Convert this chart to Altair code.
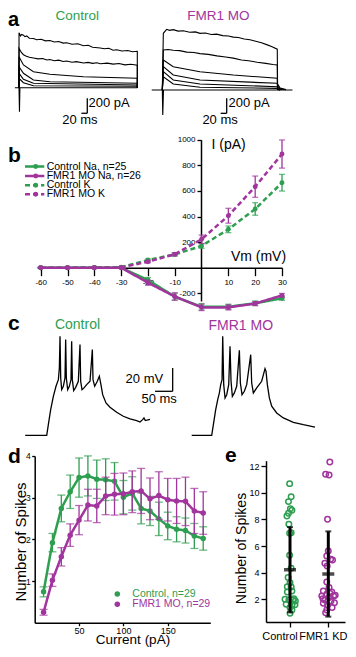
import altair as alt
import pandas as pd

FONT = "Liberation Sans"
GREEN = "#2e9e50"
MAGENTA = "#a1349d"
W, H = 340, 639

# ---------------- data ----------------
# a: voltage-clamp current traces (time ms, current pA)
A_CTRL_TRACES = [
    [(-14, 0), (0, 0), (1.5, -320), (3, 0), (402, 0)],
    [(0, 0), (0, 733), (5, 690), (9, 710), (15, 700), (20, 680), (26, 690), (35, 660), (49, 655), (60, 640),
     (75, 645), (90, 625), (105, 630), (120, 610), (135, 615), (150, 595), (162, 600), (180, 580), (200, 585),
     (219, 560), (235, 565), (250, 540), (276, 530), (290, 520), (305, 525), (320, 500), (332, 505), (350, 490),
     (370, 495), (385, 480), (402, 485), (402, 0)],
    [(0, 0), (0, 525), (8, 470), (15, 440), (25, 420), (35, 405), (49, 395), (65, 385), (80, 390), (95, 370),
     (105, 375), (120, 360), (135, 368), (150, 350), (162, 355), (180, 340), (195, 348), (219, 330), (235, 338),
     (250, 325), (265, 332), (276, 320), (300, 328), (320, 315), (340, 322), (360, 305), (380, 312), (402, 300),
     (402, 0)],
    [(0, 0), (0, 413), (15, 303), (49, 213), (105, 179), (219, 147), (402, 125), (402, 0)],
    [(0, 0), (0, 280), (15, 192), (49, 103), (105, 80), (402, 59), (402, 0)],
    [(0, 0), (0, 192), (15, 112), (49, 59), (402, 36), (402, 0)],
    [(0, 0), (0, 125), (15, 67), (49, 27), (402, 19), (402, 0)],
]
A_FMR_TRACES = [
    [(-37, 0), (0, 0), (1.5, -333), (4, 0), (453, 0)],
    [(0, 0), (3.5, 756), (15, 809), (25, 795), (38, 805), (55, 785), (73, 790), (95, 770), (115, 775), (131, 755),
     (150, 760), (170, 740), (189, 745), (210, 725), (230, 720), (247, 705), (265, 700), (285, 680), (305, 670),
     (325, 650), (345, 630), (363, 605), (380, 580), (400, 545), (401, 80), (410, 25), (430, 5)],
    [(0, 0), (3.5, 533), (20, 540), (38, 530), (60, 525), (85, 505), (110, 500), (131, 485), (160, 475),
     (190, 455), (220, 440), (247, 425), (275, 400), (300, 390), (330, 370), (360, 355), (385, 340), (400, 333),
     (401, 50), (410, 15), (430, 3)],
    [(0, 0), (3.5, 400), (38, 311), (131, 244), (247, 200), (400, 156), (401, 30), (415, 5)],
    [(0, 0), (3.5, 311), (38, 200), (131, 133), (400, 89), (401, 20), (415, 3)],
    [(0, 0), (3.5, 244), (38, 133), (131, 80), (400, 44), (401, 10), (410, 0)],
    [(0, 0), (3.5, 177), (38, 80), (131, 36), (400, 22), (401, 5), (410, 0)],
]
# scale bars: (t of vertical bar, t start of horizontal bar, bottom, top)
A_CTRL_BAR = (232, 212, -341, -141)
A_FMR_BAR = (224, 203, -311, -111)
A_CTRL_TXT = [("200 pA", 236, -208, "left"), ("20 ms", 207, -431, "center")]
A_FMR_TXT = [("200 pA", 230, -178, "left"), ("20 ms", 201, -400, "center")]

# b: I-V curves
B_VM = [-60, -50, -40, -30, -20, -10, 0, 10, 20, 30]
B_CTRL_NA = [0, 0, 0, 0, -96, -226, -305, -305, -278, -239]
B_CTRL_NA_ERR = [3, 3, 3, 4, 20, 25, 25, 20, 18, 15]
B_FMR_NA = [0, 0, 0, 0, -117, -225, -310, -310, -280, -216]
B_FMR_NA_ERR = [3, 3, 3, 4, 20, 30, 25, 20, 15, 15]
B_CTRL_K = [0, 0, 2, 5, 60, 104, 170, 300, 459, 664]
B_CTRL_K_ERR = [2, 2, 2, 3, 8, 12, 18, 26, 49, 65]
B_FMR_K = [0, 0, 0, 2, 47, 105, 222, 406, 633, 888]
B_FMR_K_ERR = [2, 2, 2, 3, 8, 12, 33, 58, 83, 110]
B_XTICKS = [-60, -50, -40, -30, -20, -10, 10, 20, 30]
B_YTICKS = [-200, 200, 400, 600, 800, 1000]
B_LEGEND = ["Control Na, n=25", "FMR1 MO Na, n=26", "Control K", "FMR1 MO K"]
B_LEGEND_GRP = ["Control", "FMR1", "Control", "FMR1"]
B_LEGEND_ION = ["Na", "Na", "K", "K"]

# c: current-clamp voltage traces (time ms, Vm mV)
C_CTRL = [(-61, -70), (0, -70), (4.6, -60.9), (11.2, -48), (18.8, -36.6), (26.3, -28), (33, -22.3), (35.8, -12.3),
          (37.7, 14.8), (39.6, -20.9), (42.4, -30.9), (47.1, -28), (51.8, -20.9), (53.7, 12), (55.6, -20.9),
          (59.4, -30.9), (64.1, -28), (68.8, -22.3), (70.7, 10.5), (72.6, -22.3), (76.4, -31.7), (82.1, -28.9),
          (89.6, -23.7), (94.3, 7.7), (96.2, -23.7), (100, -30.9), (105.7, -29.4), (113.2, -26.6), (122.7, -23.7),
          (129.3, 3.4), (131.2, -22.3), (135.9, -28), (143.4, -23.7), (149.1, -19.4), (152.9, -25.2), (158.6, -35.2),
          (168, -42.3), (179.3, -46), (198.2, -50.3), (217.1, -53.7), (236, -56), (254.9, -57.4), (264.3, -58.6),
          (271.9, -56.6), (275.6, -55.1), (279.4, -57.4), (292.6, -56.3)]
C_FMR = [(-56.7, -70), (0, -70), (4.7, -60.9), (11.3, -48), (17, -39.4), (21.7, -33.7), (25.5, -26.6), (29.3, -22.3),
         (31.2, 14.8), (34, -26.6), (37.8, -38), (42.5, -35.2), (48.2, -26.6), (51.9, 6.3), (54.8, -23.7),
         (58.5, -36.6), (64.2, -33.7), (70.8, -28), (78.4, 2.8), (81.2, -25.2), (85.9, -35.2), (92.5, -32.3),
         (99.2, -26.6), (110.5, -0.9), (113.3, -25.2), (118, -33.7), (127.5, -29.4), (141.6, -23.7), (151.1, -12.9),
         (153.9, -15.2), (157.7, -26.6), (163.4, -38), (170, -45.1), (184.1, -50.9), (203, -55.1), (231.4, -58.9),
         (259.7, -60.9), (292.7, -62.9)]
C_BAR = (357, 307, -32.3, -12.3)
C_TXT = [("20 mV", 330, -21.9, "right"), ("50 ms", 318.7, -39.2, "center")]

# d: spikes vs injected current
D_CURRENT = [10, 20, 30, 40, 50, 60, 70, 80, 90, 100, 110, 120, 130, 140, 150, 160, 170, 180, 190]
D_CTRL = [0.74, 1.92, 2.74, 3.14, 3.48, 3.52, 3.44, 3.43, 3.39, 3.01, 3.10, 2.74, 2.68, 2.49, 2.32, 2.24, 2.21, 2.08, 2.02]
D_CTRL_ERR = [0.12, 0.22, 0.32, 0.4, 0.47, 0.48, 0.46, 0.5, 0.45, 0.4, 0.4, 0.37, 0.35, 0.4, 0.33, 0.3, 0.3, 0.3, 0.28]
D_FMR = [0.25, 1.02, 1.58, 2.10, 2.46, 2.82, 2.80, 3.04, 3.08, 3.09, 3.14, 3.16, 2.97, 3.05, 2.95, 2.92, 2.91, 2.68, 2.63]
D_FMR_ERR = [0.07, 0.15, 0.22, 0.27, 0.35, 0.38, 0.4, 0.45, 0.5, 0.5, 0.5, 0.54, 0.5, 0.57, 0.51, 0.54, 0.58, 0.54, 0.51]
D_LEGEND = ["Control, n=29", "FMR1 MO, n=29"]

# e: spikes per cell, jitter in category units
E_CTRL = [10.68, 9.7, 9.33, 8.8, 8.68, 8.45, 8.25, 7.63, 7.0, 6.95, 5.3, 4.33, 3.63, 3.25, 2.95, 2.93, 2.63, 2.55,
          2.0, 1.95, 1.93, 1.88, 2.05, 1.63, 1.55, 1.6, 1.38, 1.2, 0.95]
E_CTRL_JIT = [-0.01, 0.03, -0.04, 0.01, 0.05, -0.04, -0.08, -0.03, 0.03, -0.01, -0.01, 0.03, -0.05, 0, -0.07, 0.03,
              0.05, -0.07, -0.13, -0.03, 0.08, 0.14, 0.1, -0.1, 0.05, 0.13, 0, 0.05, 0]
E_FMR = [12.3, 11.38, 11.33, 8.0, 5.63, 5.25, 5.0, 4.95, 4.7, 4.5, 3.3, 2.88, 2.63, 2.55, 2.38, 2.25, 2.25, 2.3, 2.13,
         2.05, 1.95, 1.88, 1.75, 1.7, 1.55, 1.38, 1.2, 1.0, 2.45]
E_FMR_JIT = [0.04, -0.07, 0.02, -0.02, 0, -0.04, 0.06, 0.11, -0.09, -0.03, -0.04, 0.02, -0.13, 0.09, -0.04, -0.17, 0.14,
             0.18, 0.02, -0.14, -0.09, 0.07, 0.16, -0.13, -0.02, 0.1, -0.04, -0.07, 0.04]
E_CATS = ["Control", "FMR1 KD"]
E_MEAN = [4.22, 3.9]
E_SD = [3.2, 3.2]
E_YTICKS = [2, 4, 6, 8, 10, 12]

# ---------------- helpers ----------------
color_scale = alt.Scale(domain=["Control", "FMR1"], range=[GREEN, MAGENTA])
dash_scale = alt.Scale(domain=["Na", "K"], range=[[1, 0], [5, 3]])
COLOR = alt.Color("grp:N", scale=color_scale, legend=None)


def lin(domain, rng):
    return alt.Scale(domain=domain, range=rng, zero=False, nice=False)


def trace_df(traces):
    rows = []
    for k, tr in enumerate(traces):
        for i, (t, v) in enumerate(tr):
            rows.append({"trace": k, "i": i, "t": t, "v": v})
    return pd.DataFrame(rows)


def bar_df(bar):
    tv, th, vb, vt = bar
    return pd.DataFrame([{"x": tv, "x2": tv, "y": vb, "y2": vt},
                         {"x": th, "x2": tv, "y": vb, "y2": vb}])


def trace_layers(traces, bar, texts, xs, ys, sw):
    layers = [
        alt.Chart(trace_df(traces)).mark_line(color="black", strokeWidth=sw).encode(
            x=alt.X("t:Q", scale=xs, axis=None),
            y=alt.Y("v:Q", scale=ys, axis=None),
            detail="trace:N",
            order=alt.Order("i:Q"),
        )
    ]
    if bar is not None:
        layers.append(
            alt.Chart(bar_df(bar)).mark_rule(color="black", strokeWidth=1.3).encode(
                x=alt.X("x:Q", scale=xs, axis=None), x2="x2:Q",
                y=alt.Y("y:Q", scale=ys, axis=None), y2="y2:Q")
        )
    for s, t, v, al in texts:
        layers.append(
            alt.Chart(pd.DataFrame([{"s": s, "t": t, "v": v}])).mark_text(
                align=al, baseline="middle", fontSize=13, font=FONT, color="black").encode(
                x=alt.X("t:Q", scale=xs, axis=None),
                y=alt.Y("v:Q", scale=ys, axis=None),
                text="s:N")
        )
    return layers


ALL = []

# ---------------- panel a ----------------
xa1 = lin([-14, 402], [6.9, 129.3])
ya1 = lin([-330, 750], [104.45, 23.45])
xa2 = lin([-37, 453], [143.7, 284.5])
ya2 = lin([-340, 820], [107.5, 20.5])
ALL += trace_layers(A_CTRL_TRACES, A_CTRL_BAR, A_CTRL_TXT, xa1, ya1, 1.1)
ALL += trace_layers(A_FMR_TRACES, A_FMR_BAR, A_FMR_TXT, xa2, ya2, 1.1)

# ---------------- panel c ----------------
xc1 = lin([-61, 293], [17.2, 142.1])
xc2 = lin([-57, 293], [183.6, 307.1])
yc = lin([-70, 15], [427.3, 328.1])
ALL += trace_layers([C_CTRL], C_BAR, C_TXT, xc1, yc, 1.3)
ALL += trace_layers([C_FMR], None, [], xc2, yc, 1.3)

# ---------------- panel b ----------------
xb = lin([-60, 30], [32.7, 274])
yb = lin([-260, 1000], [293, 131.7])
ax_bx = alt.Axis(orient="bottom", offset=259.7 - H, values=B_XTICKS, tickSize=8, labelFontSize=8,
                 labelPadding=3, labelFlush=False, labelOverlap=False, labelExpr="'' + datum.value",
                 title="Vm (mV)", titleX=250, titleY=-11, titleAlign="center", titleBaseline="middle",
                 titleFontSize=14, titleAngle=0)
ax_by = alt.Axis(orient="left", offset=-193, values=B_YTICKS, tickSize=4, labelFontSize=8, labelPadding=2,
                 labelFlush=False, labelOverlap=False, labelExpr="'' + datum.value",
                 title="I (pA)", titleAngle=0, titleX=10, titleY=136,
                 titleAlign="left", titleBaseline="middle", titleFontSize=14)

first = True
for grp, ion, vals, errs in [("Control", "K", B_CTRL_K, B_CTRL_K_ERR), ("FMR1", "K", B_FMR_K, B_FMR_K_ERR),
                             ("Control", "Na", B_CTRL_NA, B_CTRL_NA_ERR), ("FMR1", "Na", B_FMR_NA, B_FMR_NA_ERR)]:
    df = pd.DataFrame({"vm": B_VM, "val": vals, "lo": [v - e for v, e in zip(vals, errs)],
                       "hi": [v + e for v, e in zip(vals, errs)], "grp": grp, "ion": ion})
    base = alt.Chart(df)
    ALL.append(base.mark_rule(strokeWidth=1.3).encode(
        x=alt.X("vm:Q", scale=xb, axis=ax_bx if first else None),
        y=alt.Y("lo:Q", scale=yb, axis=ax_by if first else None), y2="hi:Q", color=COLOR))
    first = False
    xn = alt.X("vm:Q", scale=xb, axis=None)
    for f in ["lo", "hi"]:
        ALL.append(base.mark_tick(orient="horizontal", size=6, thickness=1.3).encode(
            x=xn, y=alt.Y(f + ":Q", scale=yb, axis=None), color=COLOR))
    ALL.append(base.mark_line(strokeWidth=2.5).encode(
        x=xn, y=alt.Y("val:Q", scale=yb, axis=None), color=COLOR,
        strokeDash=alt.StrokeDash("ion:N", scale=dash_scale, legend=None)))
    ALL.append(base.mark_circle(size=24, opacity=1).encode(
        x=xn, y=alt.Y("val:Q", scale=yb, axis=None), color=COLOR))

# ---------------- panel d ----------------
xd = lin([0, 198], [26.7, 202.3])
yd = lin([0, 4], [614.7, 447.9])
ax_dx = alt.Axis(orient="bottom", offset=614.7 - H, values=[50, 100, 150], tickSize=3, labelFontSize=9,
                 labelPadding=0.5, labelFlush=False, title="Current (pA)", titleFontSize=13.5, titleX=124.5,
                 titleY=21, titleAlign="center", titleBaseline="alphabetic", titleAngle=0)
ax_dy = alt.Axis(orient="left", offset=-26.7, values=[1, 2, 3, 4], tickSize=3, labelFontSize=8.5,
                 labelPadding=1.5, labelFlush=False, title="Number of Spikes", titleFontSize=15, titleAngle=270,
                 titleX=-14, titleY=533.5, titleAlign="center", titleBaseline="middle")
first = True
for grp, vals, errs in [("Control", D_CTRL, D_CTRL_ERR), ("FMR1", D_FMR, D_FMR_ERR)]:
    df = pd.DataFrame({"cur": D_CURRENT, "val": vals, "lo": [v - e for v, e in zip(vals, errs)],
                       "hi": [v + e for v, e in zip(vals, errs)], "grp": grp})
    base = alt.Chart(df)
    ALL.append(base.mark_rule(strokeWidth=1.3).encode(
        x=alt.X("cur:Q", scale=xd, axis=ax_dx if first else None),
        y=alt.Y("lo:Q", scale=yd, axis=ax_dy if first else None), y2="hi:Q", color=COLOR))
    first = False
    xn = alt.X("cur:Q", scale=xd, axis=None)
    for f in ["lo", "hi"]:
        ALL.append(base.mark_tick(orient="horizontal", size=8, thickness=1.3).encode(
            x=xn, y=alt.Y(f + ":Q", scale=yd, axis=None), color=COLOR))
    ALL.append(base.mark_line(strokeWidth=2.5).encode(
        x=xn, y=alt.Y("val:Q", scale=yd, axis=None), color=COLOR))
    ALL.append(base.mark_circle(size=30, opacity=1).encode(
        x=xn, y=alt.Y("val:Q", scale=yd, axis=None), color=COLOR))

# ---------------- panel e ----------------
xe = lin([-0.627, 1.436], [258, 337])
ye = lin([0.3, 12.4], [614, 452.7])
ax_ex = alt.Axis(orient="bottom", offset=614 - H, values=[0, 1], tickSize=5, labels=False, title=None)
ax_ey = alt.Axis(orient="left", offset=-258, values=E_YTICKS, tickSize=5, labelFontSize=9, labelPadding=2,
                 labelFlush=False, title="Number of Spikes", titleFontSize=14, titleAngle=270, titleX=-25,
                 titleY=540, titleAlign="center", titleBaseline="middle")
e_pts = pd.DataFrame({
    "pos": [0 + j for j in E_CTRL_JIT] + [1 + j for j in E_FMR_JIT],
    "val": E_CTRL + E_FMR,
    "grp": ["Control"] * len(E_CTRL) + ["FMR1"] * len(E_FMR),
})
e_stats = pd.DataFrame({"pos": [0, 1], "mean": E_MEAN,
                        "lo": [m - s for m, s in zip(E_MEAN, E_SD)],
                        "hi": [m + s for m, s in zip(E_MEAN, E_SD)]})
xen = alt.X("pos:Q", scale=xe, axis=None)
ALL += [
    alt.Chart(e_pts).mark_point(shape="circle", filled=False, size=30, strokeWidth=1.5, opacity=1).encode(
        x=alt.X("pos:Q", scale=xe, axis=ax_ex), y=alt.Y("val:Q", scale=ye, axis=ax_ey), color=COLOR),
    alt.Chart(e_stats).mark_rule(strokeWidth=3, color="black").encode(
        x=xen, y=alt.Y("lo:Q", scale=ye, axis=None), y2="hi:Q"),
    alt.Chart(e_stats).mark_tick(orient="horizontal", size=6, thickness=2, color="black").encode(
        x=xen, y=alt.Y("lo:Q", scale=ye, axis=None)),
    alt.Chart(e_stats).mark_tick(orient="horizontal", size=6, thickness=2, color="black").encode(
        x=xen, y=alt.Y("hi:Q", scale=ye, axis=None)),
    alt.Chart(e_stats).mark_tick(orient="horizontal", size=12, thickness=3.5, color="black").encode(
        x=xen, y=alt.Y("mean:Q", scale=ye, axis=None)),
]

# ---------------- labels, titles and legends (pixel scale) ----------------
px = lin([0, W], [0, W])
py = lin([0, H], [0, H])
PX = lambda f: alt.X(f + ":Q", scale=px, axis=None)
PY = lambda f: alt.Y(f + ":Q", scale=py, axis=None)

# category labels of panel e, placed with the panel's own x scale
for k, dx in [(0, -10), (1, -5)]:
    ALL.append(alt.Chart(pd.DataFrame({"pos": [k], "s": [E_CATS[k]], "y": [628.7]})).mark_text(
        align="center", baseline="middle", fontSize=11, font=FONT, color="black", dx=dx).encode(
        x=alt.X("pos:Q", scale=xe, axis=None), y=PY("y"), text="s:N"))

letters_a = pd.DataFrame({"s": ["a"], "x": [0], "y": [18.3]})
letters = pd.DataFrame({"s": ["b", "c", "d", "e"],
                        "x": [0, 0, 0, 217], "y": [153.7, 322, 455.3, 453.7]})
titles_a = pd.DataFrame({"s": ["Control", "FMR1 MO"], "grp": ["Control", "FMR1"],
                         "x": [69.3, 210.3], "y": [7.5, 7.5]})
titles_c = pd.DataFrame({"s": ["Control", "FMR1 MO"], "grp": ["Control", "FMR1"],
                         "x": [69.5, 232.8], "y": [316.7, 318.3]})
leg_b = pd.DataFrame({"s": B_LEGEND, "grp": B_LEGEND_GRP, "ion": B_LEGEND_ION,
                      "x0": 17, "x1": 36.3, "xm": 27.7, "xt": 38.7,
                      "y": [158.5, 168, 177.3, 186.2]})
leg_d = pd.DataFrame({"s": D_LEGEND, "grp": ["Control", "FMR1"], "xm": 109.3, "xt": 124.3,
                      "y": [586, 596.3]})

ALL += [
    alt.Chart(letters_a).mark_text(align="left", baseline="alphabetic", fontSize=20, fontWeight="bold",
                                   font=FONT, color="black").encode(x=PX("x"), y=PY("y"), text="s:N"),
    alt.Chart(letters).mark_text(align="left", baseline="alphabetic", fontSize=21, fontWeight="bold",
                                 font=FONT, color="black").encode(x=PX("x"), y=PY("y"), text="s:N"),
    alt.Chart(titles_a).mark_text(align="center", baseline="middle", fontSize=13.5, font=FONT).encode(
        x=PX("x"), y=PY("y"), text="s:N", color=COLOR),
    alt.Chart(titles_c).mark_text(align="center", baseline="middle", fontSize=14, font=FONT).encode(
        x=PX("x"), y=PY("y"), text="s:N", color=COLOR),
    alt.Chart(leg_b).mark_rule(strokeWidth=2.5).encode(
        x=PX("x0"), x2="x1:Q", y=PY("y"), color=COLOR,
        strokeDash=alt.StrokeDash("ion:N", scale=dash_scale, legend=None)),
    alt.Chart(leg_b).mark_circle(size=24, opacity=1).encode(x=PX("xm"), y=PY("y"), color=COLOR),
    alt.Chart(leg_b).mark_text(align="left", baseline="middle", fontSize=10.5, font=FONT, color="black").encode(
        x=PX("xt"), y=PY("y"), text="s:N"),
    alt.Chart(leg_d).mark_circle(size=30, opacity=1).encode(x=PX("xm"), y=PY("y"), color=COLOR),
    alt.Chart(leg_d).mark_text(align="left", baseline="middle", fontSize=10.5, font=FONT).encode(
        x=PX("xt"), y=PY("y"), text="s:N", color=COLOR),
]

chart = alt.layer(*ALL).resolve_scale(
    x="independent", y="independent"
).properties(
    width=W, height=H, autosize=alt.AutoSizeParams(type="none"), padding=0
).configure_view(stroke=None).configure_axis(
    grid=False, domainColor="black", tickColor="black", labelColor="black", titleColor="black",
    labelFont=FONT, titleFont=FONT, titleFontWeight="normal", domainWidth=1.5, tickWidth=1.3
).configure_text(font=FONT)

chart.save("out.html", embed_options={"renderer": "svg", "actions": False})
